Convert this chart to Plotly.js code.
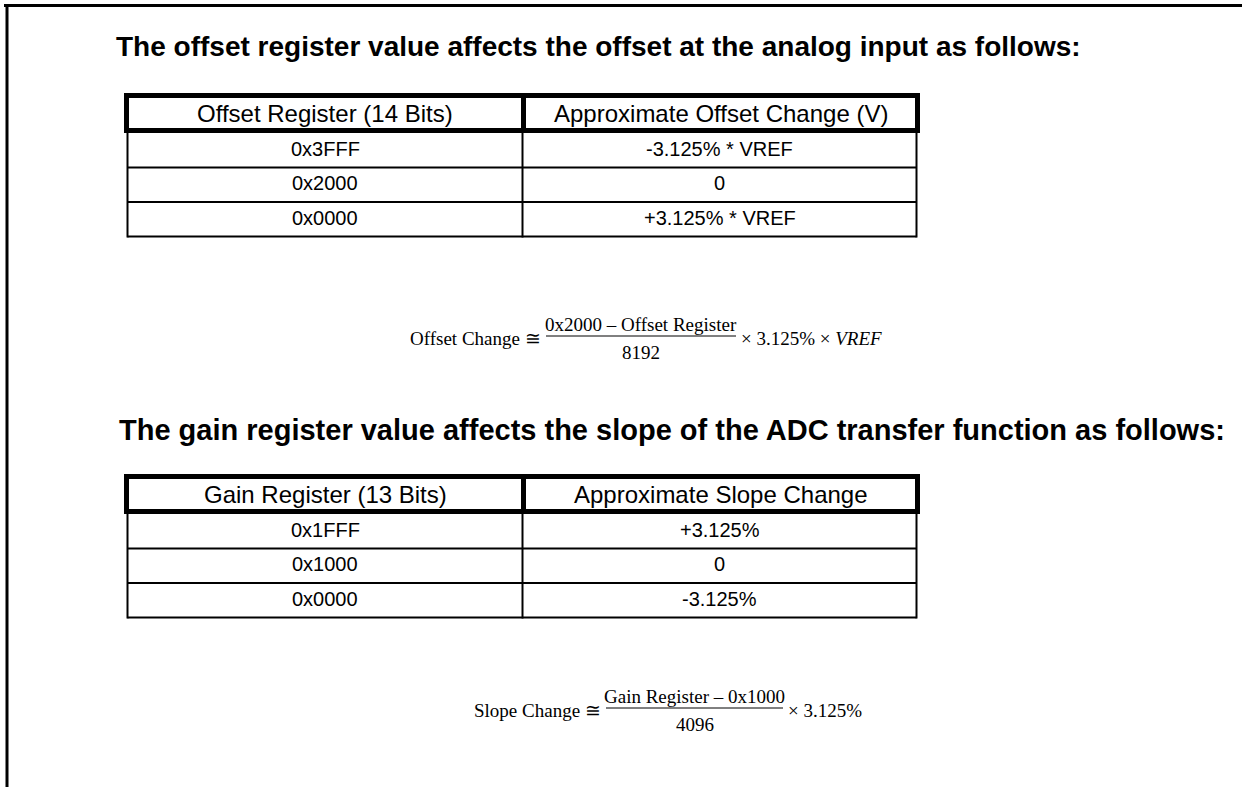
<!DOCTYPE html>
<html>
<head>
<meta charset="utf-8">
<script src="https://cdn.plot.ly/plotly-3.0.1.min.js"></script>
<style>html,body{margin:0;padding:0;background:#fff;}#chart{width:1242px;height:787px;}</style>
</head>
<body>
<div id="chart"></div>
<script>
// ---- content ----
var title1 = 'The offset register value affects the offset at the analog input as follows:';
var title2 = 'The gain register value affects the slope of the ADC transfer function as follows:';
var offsetHeaders = ['Offset Register (14 Bits)', 'Approximate Offset Change (V)'];
var offsetRegisters = ['0x3FFF', '0x2000', '0x0000'];
var offsetChanges = ['-3.125% * VREF', '0', '+3.125% * VREF'];
var gainHeaders = ['Gain Register (13 Bits)', 'Approximate Slope Change'];
var gainRegisters = ['0x1FFF', '0x1000', '0x0000'];
var slopeChanges = ['+3.125%', '0', '-3.125%'];
var formula1 = {lhs: 'Offset Change \u2245', num: '0x2000 \u2013 Offset Register', den: '8192', rhs: '\u00d7 3.125% \u00d7 <i>VREF</i>'};
var formula2 = {lhs: 'Slope Change \u2245', num: 'Gain Register \u2013 0x1000', den: '4096', rhs: '\u00d7 3.125%'};

// ---- layout helpers ----
var W = 1242, H = 787;
var shapes = [], ann = [];
var SANS = 'Liberation Sans, Arial, sans-serif';
var SERIF = 'Liberation Serif, Times New Roman, serif';

function line(x0, y0, x1, y1, w) {
  shapes.push({type: 'line', xref: 'x', yref: 'y', x0: x0, y0: y0, x1: x1, y1: y1,
    line: {color: '#000', width: w}});
}
function text(t, x, y, opts) {
  opts = opts || {};
  ann.push({xref: 'x', yref: 'y', x: x, y: y, text: t, showarrow: false,
    xanchor: opts.xa || 'center', yanchor: 'middle',
    font: {family: opts.family || SANS, size: opts.size || 18, color: '#000', weight: opts.weight || 'normal'}});
}

// frame
line(4, 5.5, W, 5.5, 3);
line(7, 4, 7, H, 3);

function drawTable(top, headers, col1, col2) {
  var L = 126.5, R = 917.5, D = 523.5, hb = top + 35;
  var rowH = 34.5;
  line(L, top, R, top, 5);
  line(L, hb, R, hb, 5);
  line(L, top - 2.5, L, hb + 2.5, 5);
  line(R, top - 2.5, R, hb + 2.5, 5);
  line(D, top, D, hb, 5);
  var bodyBottom = hb + 2.5 + rowH * col1.length;
  line(127.5, hb, 127.5, bodyBottom + 1, 2);
  line(916.5, hb, 916.5, bodyBottom + 1, 2);
  line(522.5, hb, 522.5, bodyBottom + 1, 2);
  for (var i = 0; i < col1.length; i++) {
    var yb = hb + 2.5 + rowH * (i + 1);
    line(127.5, yb, 916.5, yb, 2);
    var yc = hb + 2.5 + rowH * (i + 0.5) - 1.5;
    text(col1[i], (127.5 + 522.5) / 2, yc, {size: 20});
    text(col2[i], (522.5 + 916.5) / 2, yc, {size: 20});
  }
  text(headers[0], (L + D) / 2, top + 18, {size: 24});
  text(headers[1], (D + R) / 2, top + 18, {size: 24});
}

function drawFormula(f, x0, x1, yLine, fs) {
  line(x0, yLine, x1, yLine, 1);
  var xc = (x0 + x1) / 2;
  text(f.num, xc, yLine - 12, {family: SERIF, size: fs});
  text(f.den, xc, yLine + 16, {family: SERIF, size: fs});
  text(f.lhs, x0 - 3, yLine + 2, {family: SERIF, size: fs, xa: 'right'});
  text(f.rhs, x1 + 3, yLine + 2, {family: SERIF, size: fs, xa: 'left'});
}

text(title1, 598, 46, {size: 28, weight: 'bold'});
drawTable(95.5, offsetHeaders, offsetRegisters, offsetChanges);
drawFormula(formula1, 546, 736, 336, 19);
text(title2, 672, 430, {size: 29, weight: 'bold'});
drawTable(476.5, gainHeaders, gainRegisters, slopeChanges);
drawFormula(formula2, 606, 783, 708, 19);

var layout = {
  width: W, height: H,
  margin: {l: 0, r: 0, t: 0, b: 0},
  paper_bgcolor: '#fff', plot_bgcolor: '#fff',
  xaxis: {range: [0, W], visible: false, fixedrange: true},
  yaxis: {range: [H, 0], visible: false, fixedrange: true},
  showlegend: false,
  shapes: shapes,
  annotations: ann
};
Plotly.newPlot('chart', [], layout, {displayModeBar: false, staticPlot: true});
</script>
</body>
</html>
